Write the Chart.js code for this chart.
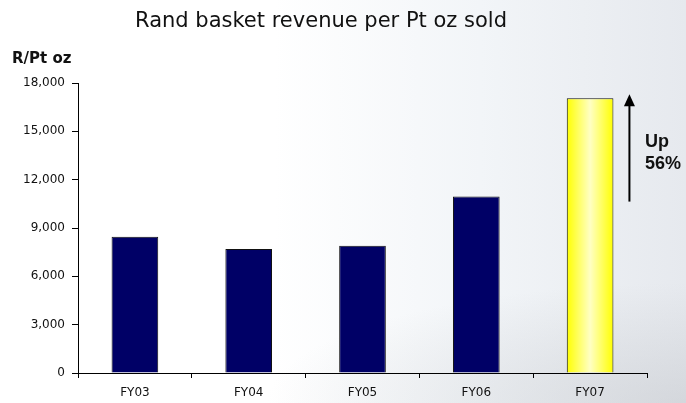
<!DOCTYPE html>
<html>
<head>
<meta charset="utf-8">
<title>Rand basket revenue per Pt oz sold</title>
<script src="https://cdn.jsdelivr.net/npm/chart.js@4.4.0/dist/chart.umd.min.js"></script>
<style>
    html, body {
        margin: 0;
        padding: 0;
    }
    body {
        width: 686px;
        height: 403px;
        overflow: hidden;
        position: relative;
        background:
            radial-gradient(ellipse 420px 120px at 686px 403px, rgba(190,193,198,0.45), rgba(190,193,198,0) 100%),
            linear-gradient(to right, #ffffff 40%, #f2f5f8 70%, #e6e9ee 100%);
    }
    .chart-wrap {
        position: absolute;
        left: 0;
        top: 0;
        width: 686px;
        height: 403px;
    }
    .title {
        position: absolute;
        left: 135px;
        top: 8px;
        font-family: "DejaVu Sans", sans-serif;
        font-size: 21px;
        color: #111;
        white-space: nowrap;
    }
    .unit {
        position: absolute;
        left: 12px;
        top: 49px;
        font-family: "DejaVu Sans", sans-serif;
        font-weight: bold;
        font-size: 15px;
        color: #111;
    }
    .note {
        position: absolute;
        left: 645px;
        top: 130px;
        font-family: "Liberation Sans", Arial, sans-serif;
        font-weight: bold;
        font-size: 18px;
        line-height: 22px;
        color: #111;
    }
</style>
</head>
<body>
<div class="chart-wrap"><canvas id="revenueChart" width="686" height="403"></canvas></div>
<div class="title">Rand basket revenue per Pt oz sold</div>
<div class="unit">R/Pt oz</div>
<div class="note">Up<br>56%</div>

<script>
// Basket revenue in rand per platinum ounce sold, by financial year
const years = ['FY03', 'FY04', 'FY05', 'FY06', 'FY07'];
const revenuePerOz = [8450, 7700, 7900, 10950, 17050];
const yTicks = [0, 3000, 6000, 9000, 12000, 15000, 18000];

const highlightIndex = 4;

function barFill(context) {
    const chart = context.chart;
    if (context.dataIndex !== highlightIndex) return '#000066';
    const xScale = chart.scales.x;
    if (!chart.chartArea || !xScale) return '#ffff00';
    const cx = xScale.getPixelForValue(highlightIndex);
    const step = xScale.getPixelForValue(1) - xScale.getPixelForValue(0);
    const w = step * 0.41 / 2;
    const g = chart.ctx.createLinearGradient(cx - w, 0, cx + w, 0);
    g.addColorStop(0, '#ffff00');
    g.addColorStop(0.5, '#ffffc4');
    g.addColorStop(1, '#ffff00');
    return g;
}

// arrow from the FY06 level up past the FY07 bar
const growthArrow = {
    id: 'growthArrow',
    afterDraw(chart) {
        const ctx = chart.ctx;
        const meta = chart.getDatasetMeta(0);
        const bar = meta.data[highlightIndex];
        const y = chart.scales.y;
        const x = bar.x + bar.width / 2 + 16;
        const yBottom = y.getPixelForValue(revenuePerOz[3]) + 5;
        const yTop = y.getPixelForValue(revenuePerOz[4]) - 4;

        ctx.save();
        ctx.strokeStyle = '#000';
        ctx.fillStyle = '#000';
        ctx.lineWidth = 2;
        ctx.beginPath();
        ctx.moveTo(x, yBottom);
        ctx.lineTo(x, yTop + 10);
        ctx.stroke();
        ctx.beginPath();
        ctx.moveTo(x, yTop);
        ctx.lineTo(x - 5.5, yTop + 12);
        ctx.lineTo(x + 5.5, yTop + 12);
        ctx.closePath();
        ctx.fill();
        ctx.restore();
    }
};

const ctx = document.getElementById('revenueChart').getContext('2d');
new Chart(ctx, {
    type: 'bar',
    data: {
        labels: years,
        datasets: [{
            data: revenuePerOz,
            backgroundColor: barFill,
            borderColor: '#111',
            borderWidth: 1,
            borderSkipped: 'bottom',
            barPercentage: 0.41,
            categoryPercentage: 1
        }]
    },
    options: {
        responsive: false,
        animation: false,
        layout: { padding: { top: 83, right: 39, left: 0, bottom: 0 } },
        plugins: {
            legend: { display: false },
            tooltip: { enabled: false }
        },
        scales: {
            x: {
                offset: true,
                border: { color: '#000', width: 1 },
                grid: {
                    display: true,
                    offset: true,
                    drawOnChartArea: false,
                    color: '#000',
                    tickLength: 5
                },
                ticks: {
                    color: '#111',
                    padding: 8,
                    font: { family: 'DejaVu Sans', size: 12 }
                },
                afterFit(scale) { scale.height = 30; }
            },
            y: {
                min: 0,
                max: 18000,
                border: { color: '#000', width: 1 },
                grid: {
                    display: true,
                    drawOnChartArea: false,
                    color: '#000',
                    tickLength: 6
                },
                afterBuildTicks(scale) {
                    scale.ticks = yTicks.map(v => ({ value: v }));
                },
                ticks: {
                    color: '#111',
                    padding: 7,
                    font: { family: 'DejaVu Sans', size: 12 },
                    callback: v => v.toLocaleString('en-US')
                },
                afterFit(scale) { scale.width = 78; }
            }
        }
    },
    plugins: [growthArrow]
});
</script>
</body>
</html>
